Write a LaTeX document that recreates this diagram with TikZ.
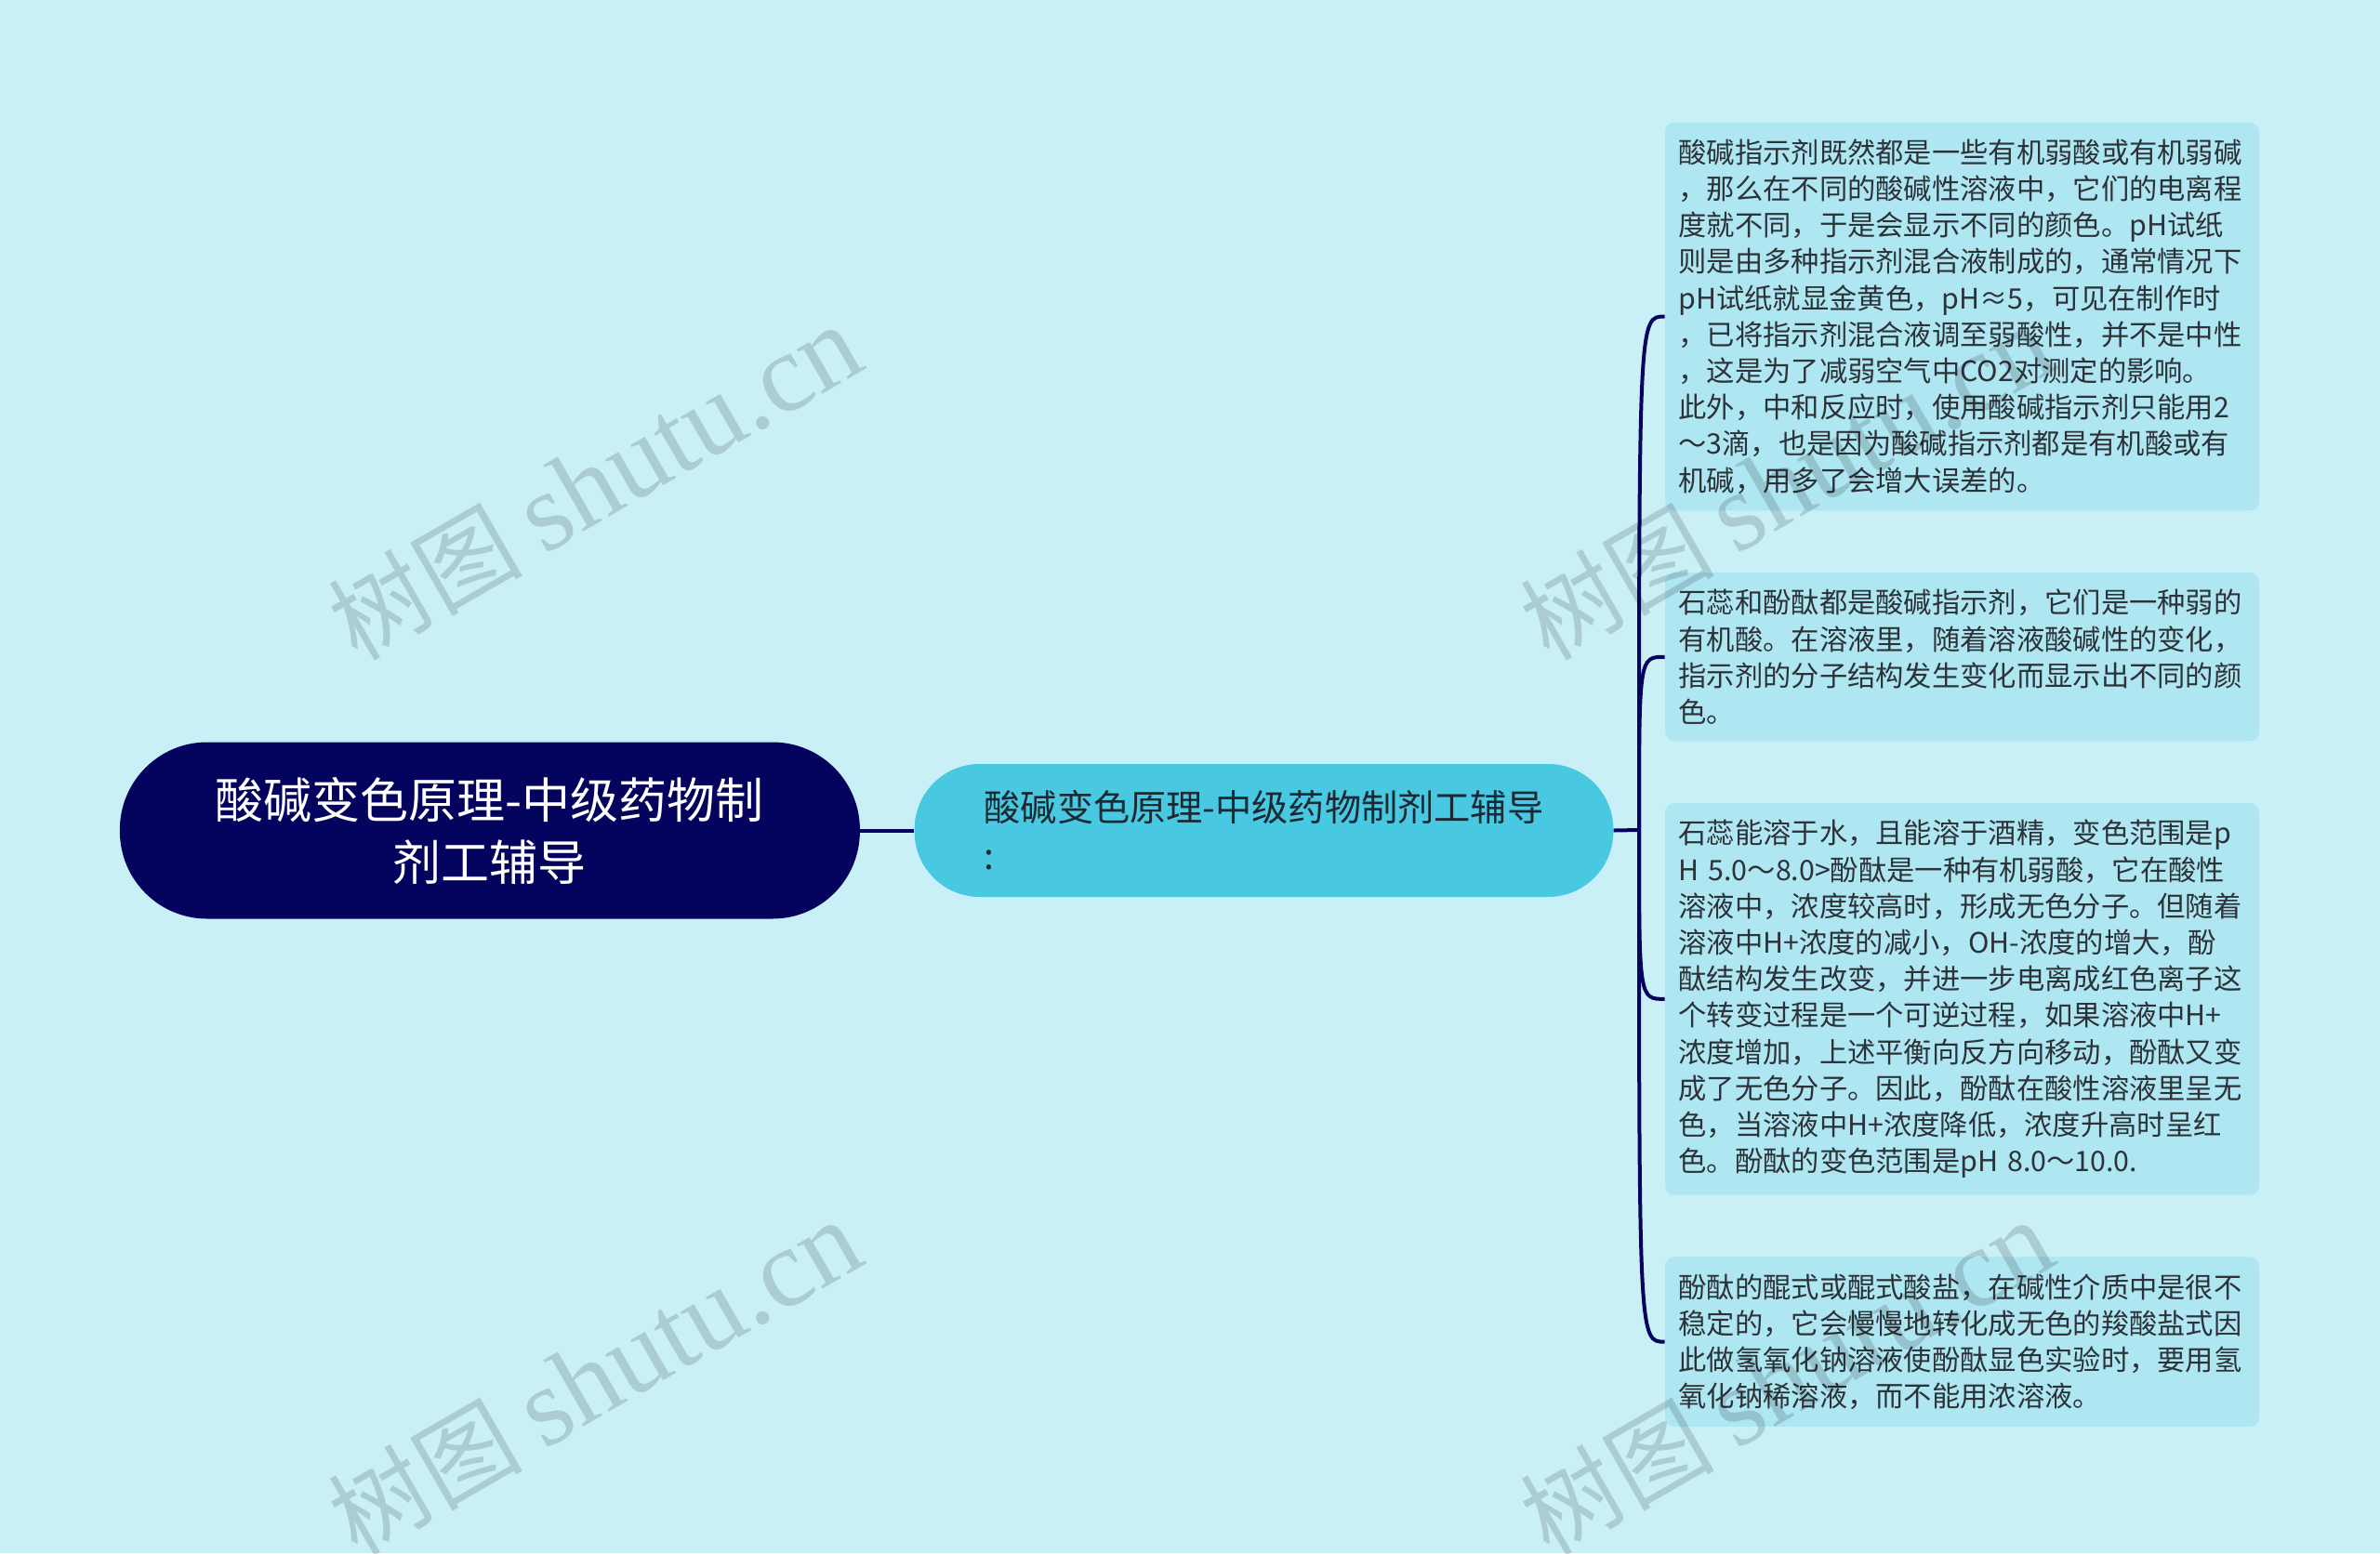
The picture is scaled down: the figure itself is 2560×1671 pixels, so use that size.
\documentclass[tikz,border=0pt]{standalone}
\usepackage{fontspec}
\newfontfamily\cjkfont{Noto Sans CJK SC}
\newfontfamily\wmlatin{Liberation Serif}
\usepackage{tikz}
\usetikzlibrary{positioning}
\usepackage{xcolor}
\definecolor{bgcol}{RGB}{201,240,247}
\definecolor{navy}{RGB}{4,4,94}
\definecolor{subcol}{RGB}{72,200,225}
\definecolor{leafcol}{RGB}{174,230,242}
\definecolor{leaftext}{RGB}{45,50,56}
\definecolor{subtext}{RGB}{28,40,50}
\pgfkeys{tikz/rootnode/.style={fill=navy, text=white, rounded corners=47pt,
    minimum width=398pt, minimum height=95pt, align=center, inner sep=0pt,
    font=\cjkfont\fontsize{26}{33.5}\selectfont}}
\pgfkeys{tikz/subnode/.style={fill=subcol, text=subtext, rounded corners=35pt,
    minimum width=374.5pt, minimum height=71.5pt, align=left, inner xsep=37.5pt,
    font=\cjkfont\fontsize{19.6}{26}\selectfont}}
\pgfkeys{tikz/leafnode/.style={fill=leafcol, text=leaftext, rounded corners=5pt,
    text width=305pt, align=left, inner xsep=7.25pt, inner ysep=9pt,
    font=\cjkfont\fontsize{15.15}{19.6}\selectfont}}
\pgfkeys{tikz/rootline/.style={draw=navy, line width=2pt}}
\pgfkeys{tikz/branchline/.style={draw=navy, line width=2pt}}
\pgfkeys{tikz/watermark/.style={text=black, text opacity=0.15, rotate=30,
    font=\cjkfont\fontsize{52}{52}\selectfont}}

\begin{document}
\begin{tikzpicture}[x=0.5pt, y=-0.5pt]

	\path[use as bounding box, fill=bgcol] (0,0) rectangle (2560,1671);
	\clip (0,0) rectangle (2560,1671);

	\node[subnode] (sub) at (1359.5,893.5) {酸碱变色原理-中级药物制剂工辅导\\:};
	\node[rootnode, left=29pt of sub] (root) {酸碱变色原理-中级药物制\\剂工辅导};
	\coordinate (jn) at (1763,893);

	\node[leafnode] (leaf1) at (2110.5,340.5) {酸碱指示剂既然都是一些有机弱酸或有机弱碱\\
		，那么在不同的酸碱性溶液中，它们的电离程\\
		度就不同，于是会显示不同的颜色。pH试纸\\
		则是由多种指示剂混合液制成的，通常情况下\\
		pH试纸就显金黄色，pH≈5，可见在制作时\\
		，已将指示剂混合液调至弱酸性，并不是中性\\
		，这是为了减弱空气中CO2对测定的影响。\\
		此外，中和反应时，使用酸碱指示剂只能用2\\
		～3滴，也是因为酸碱指示剂都是有机酸或有\\
		机碱，用多了会增大误差的。};
	\node[leafnode, below=33pt of leaf1] (leaf2) {石蕊和酚酞都是酸碱指示剂，它们是一种弱的\\
		有机酸。在溶液里，随着溶液酸碱性的变化，\\
		指示剂的分子结构发生变化而显示出不同的颜\\
		色。};
	\node[leafnode, below=33pt of leaf2] (leaf3) {石蕊能溶于水，且能溶于酒精，变色范围是p\\
		H~5.0～8.0>酚酞是一种有机弱酸，它在酸性\\
		溶液中，浓度较高时，形成无色分子。但随着\\
		溶液中H+浓度的减小，OH-浓度的增大，酚\\
		酞结构发生改变，并进一步电离成红色离子这\\
		个转变过程是一个可逆过程，如果溶液中H+\\
		浓度增加，上述平衡向反方向移动，酚酞又变\\
		成了无色分子。因此，酚酞在酸性溶液里呈无\\
		色，当溶液中H+浓度降低，浓度升高时呈红\\
		色。酚酞的变色范围是pH~8.0～10.0.};
	\node[leafnode, below=33pt of leaf3] (leaf4) {酚酞的醌式或醌式酸盐，在碱性介质中是很不\\
		稳定的，它会慢慢地转化成无色的羧酸盐式因\\
		此做氢氧化钠溶液使酚酞显色实验时，要用氢\\
		氧化钠稀溶液，而不能用浓溶液。};

	\draw[rootline] (root.east) -- (sub.west);
	\draw[branchline] (sub.east) -- (jn);
	\foreach \n in {1,...,4}
		\draw[branchline] (jn) .. controls (jn |- leaf\n.west) .. (leaf\n.west);

	% watermark
	\foreach \wx/\wy [count=\i] in {640/520, 1922/520, 640/1483, 1922/1483}
		\node[watermark] (wm-\i) at (\wx,\wy) {树图 {\wmlatin\fontsize{60}{60}\selectfont shutu.cn}};

\end{tikzpicture}
\end{document}
